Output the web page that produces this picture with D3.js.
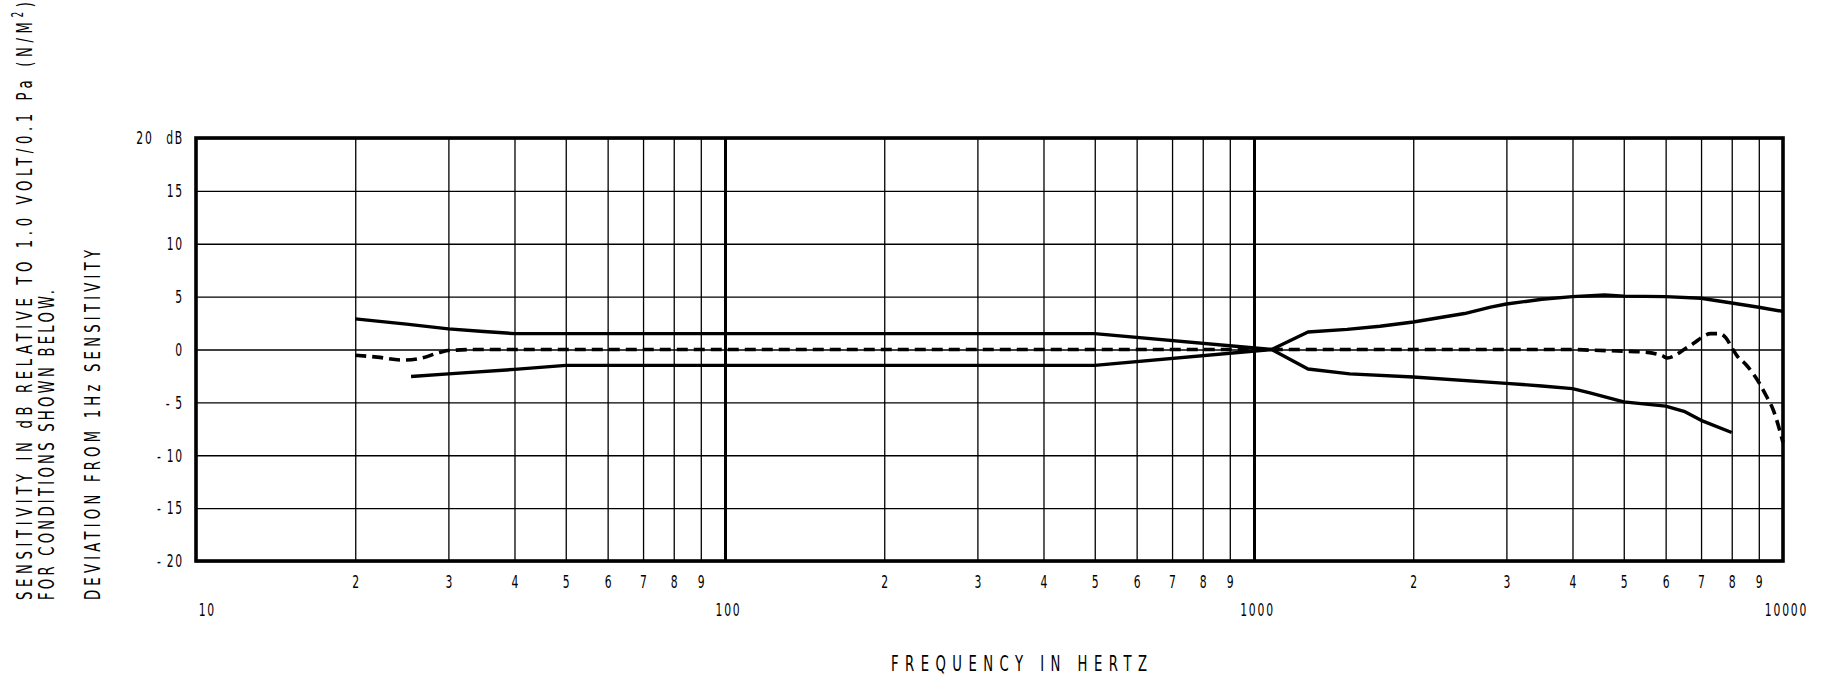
<!DOCTYPE html>
<html>
<head>
<meta charset="utf-8">
<script src="https://cdn.jsdelivr.net/npm/d3@7"></script>
<style>
html, body { margin: 0; padding: 0; background: #fff; }
svg { display: block; }
text { font-family: "DejaVu Sans", sans-serif; font-weight: normal; fill: #000; }
</style>
</head>
<body>
<svg id="chart" width="1832" height="684"></svg>
<script>
// ---------- data ----------
const yTicks = [-20, -15, -10, -5, 0, 5, 10, 15, 20];
const decadeTicks = [10, 100, 1000, 10000];
const minorTicks = [20, 30, 40, 50, 60, 70, 80, 90, 200, 300, 400, 500, 600, 700, 800, 900, 2000, 3000, 4000, 5000, 6000, 7000, 8000, 9000];
const minorLabels = ["2", "3", "4", "5", "6", "7", "8", "9", "2", "3", "4", "5", "6", "7", "8", "9", "2", "3", "4", "5", "6", "7", "8", "9"];

const upperFreq = [20, 25, 30, 35, 40, 500, 1080, 1265, 1500, 1730, 2000, 2500, 2800, 3000, 3500, 4000, 4600, 5000, 6000, 7000, 8000, 9000, 10000];
const upperDb   = [2.9, 2.4, 1.95, 1.7, 1.5, 1.5, 0, 1.65, 1.9, 2.2, 2.6, 3.4, 4.0, 4.3, 4.75, 5.0, 5.15, 5.05, 5.0, 4.85, 4.4, 4.0, 3.6];

const lowerFreq = [25.5, 30, 40, 50, 500, 1080, 1265, 1517, 2000, 3000, 3500, 4000, 4315, 5000, 6000, 6500, 7000, 8000];
const lowerDb   = [-2.55, -2.3, -1.88, -1.5, -1.5, 0, -1.85, -2.3, -2.6, -3.2, -3.45, -3.7, -4.1, -4.95, -5.35, -5.85, -6.7, -7.85];

const devFreq = [20, 22, 24.5, 26.5, 29, 30, 34, 4000, 4300, 5000, 5500, 5900, 6050, 6200, 6500, 6800, 7000, 7300, 7600, 7800, 8000, 8200, 8500, 8800, 9000, 9300, 9600, 9800, 10000];
const devDb   = [-0.55, -0.72, -1.0, -0.85, -0.25, -0.1, 0, 0, -0.06, -0.16, -0.25, -0.57, -0.8, -0.65, 0, 0.63, 1.1, 1.5, 1.5, 1.1, 0.2, -0.65, -1.4, -2.35, -3.1, -4.4, -5.8, -7.2, -8.8];

const yTitleLines = ["SENSITIVITY IN dB RELATIVE TO 1.0 VOLT/0.1 Pa (N/M", "FOR CONDITIONS SHOWN BELOW.", "DEVIATION FROM 1Hz SENSITIVITY"];
const xTitle = "FREQUENCY IN HERTZ";

// ---------- layout ----------
const L = 196, R = 1783, T = 138, B = 561;
const SX = 0.6; // horizontal glyph compression to mimic the narrow drafting font
const svg = d3.select("#chart");
const x = d3.scaleLog().domain([10, 10000]).range([L, R]);
const y = d3.scaleLinear().domain([-20, 20]).range([B, T]);

// horizontal grid
const hg = svg.append("g").attr("transform", `translate(${L},0)`)
  .call(d3.axisLeft(y).tickValues(yTicks).tickSize(-(R - L)).tickFormat(""));
hg.select(".domain").remove();
hg.selectAll("line").attr("stroke", "#000").attr("stroke-width", 1.3);

// vertical minor grid
const vg = svg.append("g").attr("transform", `translate(0,${B})`)
  .call(d3.axisBottom(x).tickValues(minorTicks).tickSize(-(B - T)).tickFormat(""));
vg.select(".domain").remove();
vg.selectAll("line").attr("stroke", "#000").attr("stroke-width", 1.3);

// vertical decade grid
const dg = svg.append("g").attr("transform", `translate(0,${B})`)
  .call(d3.axisBottom(x).tickValues([100, 1000]).tickSize(-(B - T)).tickFormat(""));
dg.select(".domain").remove();
dg.selectAll("line").attr("stroke", "#000").attr("stroke-width", 3);

// frame
svg.append("rect")
  .attr("x", x(10)).attr("y", y(20))
  .attr("width", x(10000) - x(10)).attr("height", y(-20) - y(20))
  .attr("fill", "none").attr("stroke", "#000").attr("stroke-width", 3.6);

// y labels
const yl = svg.append("g").attr("transform", `translate(${L},0)`)
  .call(d3.axisLeft(y).tickValues(yTicks).tickSize(0).tickPadding(12 / SX)
    .tickFormat(d => d === 20 ? "20\u2003dB" : (d < 0 ? "-\u2009" + Math.abs(d) : String(d))));
yl.select(".domain").remove();
yl.selectAll("text").attr("font-size", 18).attr("letter-spacing", 3)
  .attr("font-family", null).attr("transform", `scale(${SX},1)`);

// x minor labels
const xm = svg.append("g").attr("transform", `translate(0,${B})`)
  .call(d3.axisBottom(x).tickValues(minorTicks).tickSize(0).tickPadding(14)
    .tickFormat((d, i) => minorLabels[i]));
xm.select(".domain").remove();
xm.selectAll("text").attr("font-size", 18).attr("font-family", null)
  .attr("transform", `scale(${SX},1)`);

// x decade labels
const xd = svg.append("g").attr("transform", `translate(0,${B})`)
  .call(d3.axisBottom(x).tickValues(decadeTicks).tickSize(0).tickPadding(42)
    .tickFormat(d => String(d)));
xd.select(".domain").remove();
xd.selectAll("text").attr("font-size", 18).attr("letter-spacing", 3).attr("font-family", null)
  .attr("transform", `scale(${SX},1)`)
  .attr("dx", (d, i) => i === 0 ? 18 : 5);

// curves
const line = d3.line().x(d => x(d[0])).y(d => y(d[1]));
const smooth = d3.line().x(d => x(d[0])).y(d => y(d[1])).curve(d3.curveMonotoneX);
svg.append("path").attr("d", line(d3.zip(upperFreq, upperDb)))
  .attr("fill", "none").attr("stroke", "#000").attr("stroke-width", 3.4).attr("stroke-linejoin", "round");
svg.append("path").attr("d", line(d3.zip(lowerFreq, lowerDb)))
  .attr("fill", "none").attr("stroke", "#000").attr("stroke-width", 3.4).attr("stroke-linejoin", "round");
svg.append("path").attr("d", smooth(d3.zip(devFreq, devDb)))
  .attr("fill", "none").attr("stroke", "#000").attr("stroke-width", 3.6).attr("stroke-dasharray", "11,6");

// y title (rotated)
const yt1 = svg.append("text").attr("transform", `translate(32,600) rotate(-90) scale(${SX},1)`)
  .attr("font-size", 22).attr("textLength", 598 / SX).attr("lengthAdjust", "spacing");
yt1.append("tspan").text(yTitleLines[0]);
yt1.append("tspan").attr("dy", -9).attr("font-size", 15).text("2");
yt1.append("tspan").attr("dy", 9).text(")");

svg.append("text").attr("transform", `translate(54,600) rotate(-90) scale(${SX},1)`)
  .attr("font-size", 22).attr("textLength", 310 / SX).attr("lengthAdjust", "spacing")
  .text(yTitleLines[1]);
svg.append("text").attr("transform", `translate(100,600) rotate(-90) scale(${SX},1)`)
  .attr("font-size", 22).attr("textLength", 350 / SX).attr("lengthAdjust", "spacing")
  .text(yTitleLines[2]);

// x title
svg.append("text").attr("transform", `translate(891,671) scale(${SX},1)`)
  .attr("font-size", 22).attr("textLength", 256 / SX).attr("lengthAdjust", "spacing")
  .text(xTitle);
</script>
</body>
</html>
